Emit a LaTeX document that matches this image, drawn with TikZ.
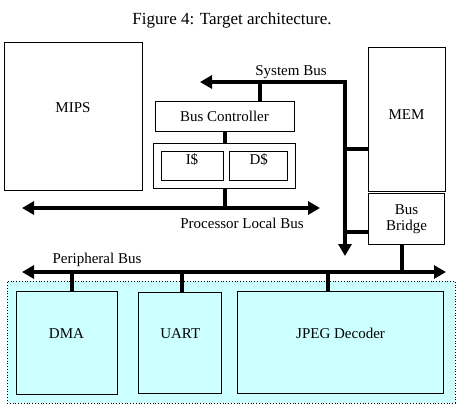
\documentclass[tikz,border=0pt]{standalone}
\usepackage{fontspec}
\setmainfont{Liberation Serif}
\usetikzlibrary{positioning,arrows.meta}
\definecolor{paleCyan}{RGB}{204,255,255}

\begin{document}
\begin{tikzpicture}[x=1pt, y=-1pt, >={Triangle[length=12pt,width=13pt]}, font=\fontsize{15}{16}\selectfont]
        % Styles
        \tikzstyle{block} = [draw, rectangle, line width=0.8pt, inner sep=0pt, align=center]
        \tikzstyle{periph} = [block, fill=paleCyan]
        \tikzstyle{bus} = [line width=4.5pt]
        \tikzstyle{link} = [line width=4pt]

        \useasboundingbox (0,0) rectangle (464,408);

        % Title
        \node (title) at (232,20) {\fontsize{17}{19}\selectfont Figure 4: Target architecture.};

        % Processor side
        \node [block, minimum width=138pt, minimum height=148pt, text depth=16pt] (mips) at (73,116) {MIPS};
        \node [block, minimum width=139pt, minimum height=30pt] (busctrl) at (224.5,116) {Bus Controller};
        \node [block, minimum width=142pt, minimum height=45pt, below=12pt of busctrl] (cache) {};
        \node [block, minimum width=62pt, minimum height=29pt, text depth=12pt] (icache) at (192,165.5) {I\$};
        \node [block, minimum width=58pt, minimum height=29pt, text depth=12pt, right=6pt of icache] (dcache) {D\$};

        % Memory side
        \node [block, minimum width=77pt, minimum height=144pt, text depth=8pt] (mem) at (406.5,119) {MEM};
        \node [block, minimum width=76pt, minimum height=51pt, below=2pt of mem] (bridge) {Bus\\Bridge};

        % Peripherals
        \node [draw, dotted, line width=0.8pt, fill=paleCyan, minimum width=448pt, minimum height=122pt] (periphs) at (231,342) {};
        \node [periph, minimum width=101pt, minimum height=103pt, text depth=18pt] (dma) at (66.5,342.5) {DMA};
        \node [periph, minimum width=83pt, minimum height=101pt, text depth=18pt, right=21pt of dma] (uart) {UART};
        \node [periph, minimum width=206pt, minimum height=102pt, text depth=18pt, right=15pt of uart] (jpeg) {JPEG Decoder};

        % Buses
        \coordinate (sysL) at (200,82);
        \coordinate (sysC) at (345,82);
        \coordinate (sysD) at (345,256);
        \draw [bus, <->] (sysL) -- (sysC) -- (sysD);
        \node (syslabel) at (291,72) {System Bus};

        \coordinate (plbL) at (22,208);
        \coordinate (plbR) at (320,208);
        \draw [bus, <->] (plbL) -- (plbR);
        \node (plblabel) at (242,223) {Processor Local Bus};

        \coordinate (pbL) at (22,272);
        \coordinate (pbR) at (446,272);
        \draw [bus, <->] (pbL) -- (pbR);
        \node (pblabel) at (97,260) {Peripheral Bus};

        % Links
        \coordinate (bctap) at (260,82);
        \draw [link] (bctap) -- (bctap |- busctrl.north);
        \draw [link] (busctrl) -- (cache);
        \draw [link] (cache.south) -- (cache.south |- plbL);

        \coordinate (memtap) at (345,149);
        \draw [link] (memtap) -- (memtap -| mem.west);
        \coordinate (brtap) at (345,232);
        \draw [link] (brtap) -- (brtap -| bridge.west);
        \coordinate (brdown) at (402,272);
        \draw [link] (brdown) -- (brdown |- bridge.south);

        \foreach \n/\x in {dma/72, uart/182, jpeg/328} {
            \coordinate (tap) at (\x,272);
            \draw [link] (tap) -- (tap |- \n.north);
        }

    \end{tikzpicture}
\end{document}
